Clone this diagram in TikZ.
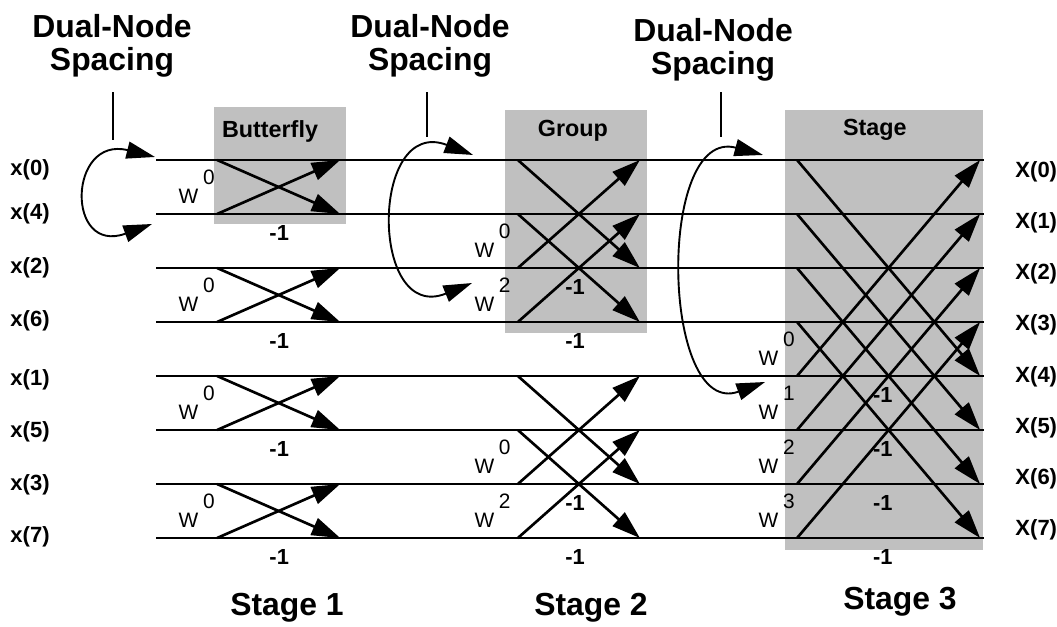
\documentclass[tikz,border=0pt]{standalone}
\usepackage{fontspec}
\setmainfont{Liberation Sans}
\usetikzlibrary{arrows.meta, positioning, calc}

\definecolor{boxgray}{RGB}{192,192,192}
% twiddle factor with its raised exponent
\newcommand{\twid}[1]{W\kern2.5pt\raisebox{10pt}{#1}}

\begin{document}
\begin{tikzpicture}[
    >={Triangle[length=15pt, width=9.5pt]},
    wire/.style={line width=1.4pt},
    flow/.style={->, line width=1.4pt},
    swap/.style={<->, line width=1pt, >={Triangle[length=15pt, width=9pt]}},
    pointer/.style={line width=1pt},
    shade/.style={fill=boxgray},
    inlbl/.style={font=\bfseries\fontsize{11.6}{13}\selectfont, inner sep=0pt},
    boxlbl/.style={font=\bfseries\fontsize{12.3}{14}\selectfont, inner sep=0pt},
    biglbl/.style={font=\bfseries\fontsize{16.8}{17.5}\selectfont, inner sep=0pt, align=center},
    twlbl/.style={font=\fontsize{11}{12}\selectfont, inner sep=0pt, anchor=base west},
    neglbl/.style={font=\bfseries\fontsize{11.5}{12}\selectfont, inner sep=0pt},
  ]
  \useasboundingbox (0,2.963) rectangle (19.574,-8.648);

  % shaded regions
  \fill[shade] (3.963,0.981) rectangle (6.407,-1.185);
  \fill[shade] (9.352,0.926) rectangle (11.98,-3.204);
  \fill[shade] (14.537,0.926) rectangle (18.204,-7.222);
  \node[boxlbl] (bfly) at (5.0,0.537) {Butterfly};
  \node[boxlbl] (grp) at (10.61,0.537) {Group};
  \node[boxlbl] (stg) at (16.2,0.556) {Stage};

  % points of every row
  \foreach \r in {0,...,7} {
    \coordinate (in\r) at (2.89,-\r);
    \coordinate (a\r) at (4.02,-\r);
    \coordinate (b\r) at (6.30,-\r);
    \coordinate (c\r) at (9.59,-\r);
    \coordinate (d\r) at (11.85,-\r);
    \coordinate (e\r) at (14.76,-\r);
    \coordinate (f\r) at (18.15,-\r);
    \coordinate (out\r) at (18.22,-\r);
    \draw[wire] (in\r) -- (out\r);
  }

  % inputs and outputs
  \foreach \lab/\yy [count=\i from 0] in {0/-0.19, 4/-1.0, 2/-2.0, 6/-2.98, 1/-4.07, 5/-5.04, 3/-6.02, 7/-6.98}
    \node[inlbl] (x\lab) at (0.556,\yy) {x(\lab)};
  \foreach \i in {0,...,7}
    \node[inlbl] (X\i) at (19.19,{-0.222-0.946*\i}) {X(\i)};

  % stage 1
  \foreach \u/\l in {0/1, 2/3, 4/5, 6/7} {
    \draw[flow] (a\u) -- (b\l);
    \draw[flow] (a\l) -- (b\u);
    \node[twlbl] (wa\l) at (3.3,{0.2-\l}) {\twid{0}};
    \node[neglbl] (na\l) at (5.17,{-\l-0.36}) {-1};
  }

  % stage 2
  \foreach \u/\l/\k in {0/2/0, 1/3/2, 4/6/0, 5/7/2} {
    \draw[flow] (c\u) -- (d\l);
    \draw[flow] (c\l) -- (d\u);
    \node[twlbl] (wb\l) at (8.78,{0.2-\l}) {\twid{\k}};
    \node[neglbl] (nb\l) at (10.65,{-\l-0.36}) {-1};
  }

  % stage 3
  \foreach \u/\l/\k in {0/4/0, 1/5/1, 2/6/2, 3/7/3} {
    \draw[flow] (e\u) -- (f\l);
    \draw[flow] (e\l) -- (f\u);
    \node[twlbl] (wc\l) at (14.04,{0.2-\l}) {\twid{\k}};
    \node[neglbl] (nc\l) at (16.35,{-\l-0.36}) {-1};
  }

  % dual-node spacing
  \node[biglbl, anchor=south] (dns1) at (2.074,1.519) {Dual-Node\\Spacing};
  \node[biglbl, anchor=south] (dns2) at (7.963,1.519) {Dual-Node\\Spacing};
  \node[biglbl, anchor=south] (dns3) at (13.204,1.444) {Dual-Node\\Spacing};

  \coordinate (p1a) at (2.093,1.259);
  \coordinate (p1b) at (2.093,0.37);
  \coordinate (p2a) at (7.907,1.259);
  \coordinate (p2b) at (7.907,0.426);
  \coordinate (p3a) at (13.352,1.259);
  \coordinate (p3b) at (13.352,0.426);
  \draw[pointer] (p1a) -- (p1b);
  \draw[pointer] (p2a) -- (p2b);
  \draw[pointer] (p3a) -- (p3b);

  \coordinate (s1a) at (2.87,0.056);
  \coordinate (s1b) at (2.815,-1.185);
  \coordinate (s2a) at (8.759,0.093);
  \coordinate (s2b) at (8.741,-2.278);
  \coordinate (s3a) at (14.13,0.093);
  \coordinate (s3b) at (14.167,-4.111);
  \draw[swap] (s1a) .. controls +(166:1.66) and +(200:1.71) .. (s1b);
  \draw[swap] (s2a) .. controls +(159:2.05) and +(202:2.05) .. (s2b);
  \draw[swap] (s3a) .. controls +(165:2.05) and +(200:2.05) .. (s3b);

  % stage names
  \node[biglbl, anchor=base] (st1) at (5.315,-8.444) {Stage 1};
  \node[biglbl, anchor=base] (st2) at (10.944,-8.444) {Stage 2};
  \node[biglbl, anchor=base] (st3) at (16.667,-8.333) {Stage 3};
\end{tikzpicture}
\end{document}
